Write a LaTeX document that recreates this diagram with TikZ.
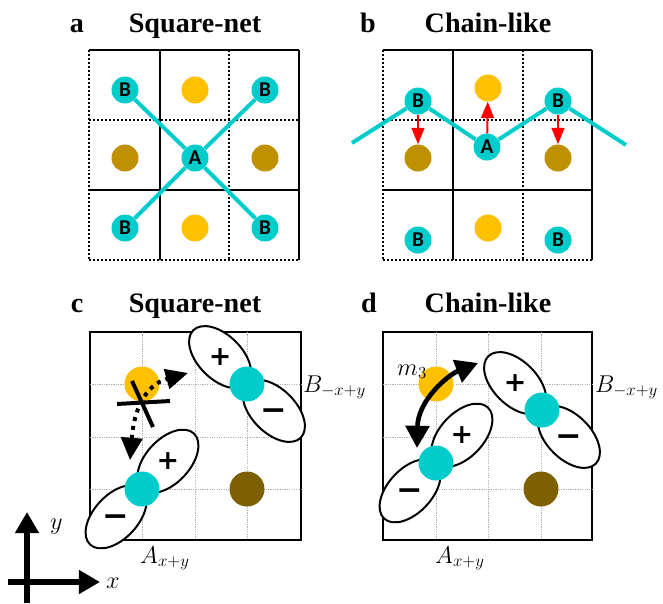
\documentclass[tikz,border=0pt]{standalone}
\usepackage{fontspec}
\setmainfont{Liberation Serif}
\newfontfamily\atomfont{Carlito}
\newfontfamily\signfont{DejaVu Sans}
\usetikzlibrary{arrows.meta}
\definecolor{atomcyan}{RGB}{0,204,204}
\definecolor{siteyellow}{RGB}{255,192,0}
\definecolor{siteochre}{RGB}{191,144,0}
\definecolor{sitebrown}{RGB}{127,96,0}
\definecolor{shiftred}{RGB}{255,0,0}
\begin{document}
\begin{tikzpicture}[x=0.03cm,y=-0.03cm,
  paneltitle/.style={font=\fontsize{24}{24}\selectfont\bfseries,anchor=base},
  atom/.style={circle,fill=atomcyan,inner sep=0pt,minimum size=0.81cm,
    font=\atomfont\fontsize{18}{18}\selectfont\bfseries},
  site/.style={circle,inner sep=0pt,minimum size=0.81cm},
  bigatom/.style={circle,fill=atomcyan,inner sep=0pt,minimum size=1.05cm},
  bigsite/.style={circle,inner sep=0pt,minimum size=1.05cm},
  cellline/.style={line width=1.7pt},
  celldots/.style={line width=1.7pt,dash pattern=on 1.7pt off 1.7pt},
  finegrid/.style={gray!60,line width=0.6pt,dash pattern=on 1pt off 1pt},
  bond/.style={atomcyan,line width=3.4pt},
  shiftarrow/.style={shiftred,line width=1.7pt,-{Triangle[length=14pt,width=11pt]}},
  lobe/.style={draw,line width=1.7pt,fill=white},
  signtxt/.style={font=\signfont\fontsize{23}{23}\selectfont\bfseries,inner sep=0pt},
  minustxt/.style={font=\signfont\fontsize{27}{27}\selectfont\bfseries,inner sep=0pt},
  mathlbl/.style={font=\fontsize{21}{21}\selectfont,anchor=base west,inner sep=0pt},
  hopdots/.style={line width=3.4pt,dash pattern=on 3.4pt off 4.3pt,
    {Triangle[length=19pt,width=18pt]}-{Triangle[length=19pt,width=17pt]}},
  swing/.style={line width=4pt,{Triangle[length=19pt,width=20pt]}-{Triangle[length=19pt,width=20pt]}},
  axis/.style={line width=4.3pt,-{Triangle[length=18pt,width=19.5pt]}}]
  \useasboundingbox (0,0) rectangle (663,603);

  \node[paneltitle] (ta) at (77,32) {a};
  \node[paneltitle] (tsa) at (195,32) {Square-net};
  \node[paneltitle] (tb) at (368,32) {b};
  \node[paneltitle] (tsb) at (488,32) {Chain-like};
  \node[paneltitle] (tc) at (77,312) {c};
  \node[paneltitle] (tsc) at (195,312) {Square-net};
  \node[paneltitle] (td) at (369,312) {d};
  \node[paneltitle] (tsd) at (488,312) {Chain-like};

  \foreach \p in {89,229} \draw[celldots] (\p,50) -- (\p,260);
  \foreach \p in {120,260} \draw[celldots] (89,\p) -- (299,\p);
  \draw[cellline] (160,50) -- (160,260) (299,50) -- (299,260)
    (89,50) -- (299,50) (89,190) -- (299,190);
  \node[site,fill=siteyellow] (aY1) at (195,90) {};
  \node[site,fill=siteochre] (aO1) at (125,158) {};
  \node[site,fill=siteochre] (aO2) at (265,158) {};
  \node[site,fill=siteyellow] (aY2) at (195,228) {};
  \node[atom] (aA) at (195,158) {A};
  \node[atom] (aB1) at (125,90) {B};
  \node[atom] (aB2) at (265,90) {B};
  \node[atom] (aB3) at (125,228) {B};
  \node[atom] (aB4) at (265,228) {B};
  \draw[bond] (aB1) -- (aA) -- (aB4) (aB2) -- (aA) -- (aB3);

  \foreach \p in {383,523} \draw[celldots] (\p,50) -- (\p,260);
  \foreach \p in {120,260} \draw[celldots] (383,\p) -- (592,\p);
  \draw[cellline] (453,50) -- (453,260) (592,50) -- (592,260)
    (383,50) -- (592,50) (383,190) -- (592,190);
  \node[site,fill=siteyellow] (bY1) at (488,88) {};
  \node[site,fill=siteochre] (bO1) at (418,158) {};
  \node[site,fill=siteochre] (bO2) at (558,158) {};
  \node[site,fill=siteyellow] (bY2) at (488,228) {};
  \node[atom] (bA) at (487,147) {A};
  \node[atom] (bB1) at (418,101) {B};
  \node[atom] (bB2) at (558,101) {B};
  \node[atom] (bB3) at (418,240) {B};
  \node[atom] (bB4) at (558,240) {B};
  \coordinate (bL) at (352,143);
  \coordinate (bR) at (626,145);
  \draw[bond] (bL) -- (bB1) -- (bA) -- (bB2) -- (bR);
  \draw[shiftarrow] (bB1) -- (bO1);
  \draw[shiftarrow] (bA) -- (bY1);
  \draw[shiftarrow] (bB2) -- (bO2);

  \draw[cellline] (90,332) rectangle (301,540);
  \foreach \p in {142,195,247} \draw[finegrid] (\p,332) -- (\p,540);
  \foreach \p in {384,437,489} \draw[finegrid] (90,\p) -- (301,\p);
  \node[bigsite,fill=siteyellow] (cY) at (142,384) {};
  \node[bigsite,fill=sitebrown] (cO) at (247,489) {};
  \begin{scope}[shift={(142,489)},rotate=47]
    \draw[lobe] (38,0) ellipse [x radius=1.14cm,y radius=0.66cm];
    \draw[lobe] (-38,0) ellipse [x radius=1.14cm,y radius=0.66cm];
    \node[signtxt] (cAp) at (38,0) {+};
    \node[minustxt] (cAm) at (-38,0) {\vphantom{+}−};
  \end{scope}
  \begin{scope}[shift={(247,384)},rotate=-45]
    \draw[lobe] (38,0) ellipse [x radius=1.14cm,y radius=0.66cm];
    \draw[lobe] (-38,0) ellipse [x radius=1.14cm,y radius=0.66cm];
    \node[signtxt] (cBp) at (-38,0) {+};
    \node[minustxt] (cBm) at (38,0) {\vphantom{+}−};
  \end{scope}
  \node[bigatom] (cA) at (142,489) {};
  \node[bigatom] (cB) at (247,384) {};
  \coordinate (hopLow) at (130,460);
  \coordinate (hopUp) at (188,373);
  \draw[hopdots] (hopLow) .. controls (134,410) and (145,385) .. (hopUp);
  \draw[line width=3.4pt] (117,404) -- (170,401) (132,381) -- (153,427);
  \node[mathlbl] (cBl) at (303,392) {$B_{-x+y}$};
  \node[mathlbl] (cAl) at (140,563) {$A_{x+y}$};

  \draw[cellline] (383,332) rectangle (592,540);
  \foreach \p in {436,488,541} \draw[finegrid] (\p,332) -- (\p,540);
  \foreach \p in {384,437,489} \draw[finegrid] (383,\p) -- (592,\p);
  \node[bigsite,fill=siteyellow] (dY) at (436,384) {};
  \node[bigsite,fill=sitebrown] (dO) at (541,489) {};
  \begin{scope}[shift={(436,463)},rotate=47]
    \draw[lobe] (38,0) ellipse [x radius=1.14cm,y radius=0.66cm];
    \draw[lobe] (-38,0) ellipse [x radius=1.14cm,y radius=0.66cm];
    \node[signtxt] (dAp) at (38,0) {+};
    \node[minustxt] (dAm) at (-38,0) {\vphantom{+}−};
  \end{scope}
  \begin{scope}[shift={(542,410)},rotate=-45]
    \draw[lobe] (38,0) ellipse [x radius=1.14cm,y radius=0.66cm];
    \draw[lobe] (-38,0) ellipse [x radius=1.14cm,y radius=0.66cm];
    \node[signtxt] (dBp) at (-38,0) {+};
    \node[minustxt] (dBm) at (38,0) {\vphantom{+}−};
  \end{scope}
  \node[bigatom] (dA) at (436,463) {};
  \node[bigatom] (dB) at (542,410) {};
  \coordinate (swLow) at (417,448);
  \coordinate (swUp) at (478,363);
  \draw[swing] (swLow) .. controls (418,400) and (448,375) .. (swUp);
  \node[mathlbl] (dm) at (397,375) {$m_3$};
  \node[mathlbl] (dBl) at (595,392) {$B_{-x+y}$};
  \node[mathlbl] (dAl) at (435,563) {$A_{x+y}$};

  \coordinate (yFoot) at (27,603);
  \coordinate (yTip) at (27,512);
  \coordinate (xFoot) at (8,582);
  \coordinate (xTip) at (100,582);
  \draw[axis] (yFoot) -- (yTip);
  \draw[axis] (xFoot) -- (xTip);
  \node[mathlbl] (ly) at (50,529) {$y$};
  \node[mathlbl] (lx) at (106,588) {$x$};
\end{tikzpicture}
\end{document}
